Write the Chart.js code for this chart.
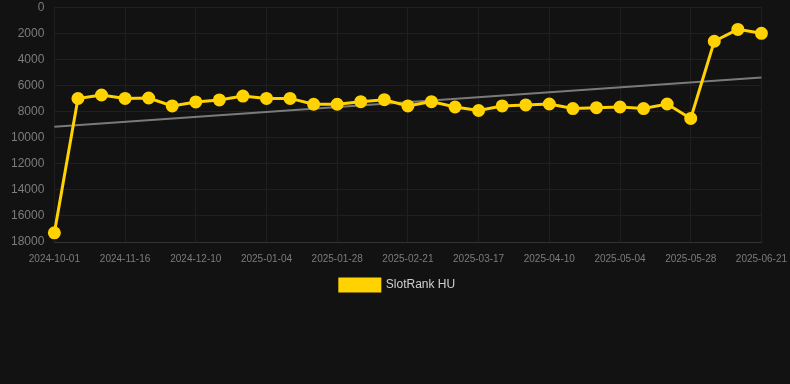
<!DOCTYPE html>
<html lang="en">
<head>
  <meta charset="UTF-8">
  <title>SlotRank HU</title>
  <script src="https://cdn.jsdelivr.net/npm/chart.js"></script>
  <style>
    body { margin: 0; background: #121212; overflow: hidden; }
    .grafico { width: 798px; height: 311px; margin-top: -10px; position: relative; }
  </style>
</head>
<body>
  <div class="grafico">
    <canvas id="graficoRank"></canvas>
  </div>

<script>
  // datas de cada ponto (so uma a cada tres aparece no eixo)
  const datas = [
    '2024-10-01', '2024-10-31', '2024-11-08', '2024-11-16', '2024-11-24', '2024-12-02',
    '2024-12-10', '2024-12-18', '2024-12-26', '2025-01-04', '2025-01-12', '2025-01-20',
    '2025-01-28', '2025-02-05', '2025-02-13', '2025-02-21', '2025-03-01', '2025-03-09',
    '2025-03-17', '2025-03-25', '2025-04-02', '2025-04-10', '2025-04-18', '2025-04-26',
    '2025-05-04', '2025-05-12', '2025-05-20', '2025-05-28', '2025-06-05', '2025-06-13',
    '2025-06-21'
  ];

  // posicao no ranking
  const rankHU = [
    17300, 7000, 6730, 6990, 6960, 7570, 7260, 7110, 6810, 6990, 6990,
    7440, 7440, 7240, 7090, 7570, 7240, 7650, 7920, 7570, 7490, 7420,
    7770, 7700, 7650, 7770, 7420, 8530, 2610, 1700, 2000
  ];

  // linha de tendencia: so inicio e fim, o resto fica vazio
  const tendencia = [
    9160, null, null, null, null, null, null, null, null, null, null,
    null, null, null, null, null, null, null, null, null, null, null,
    null, null, null, null, null, null, null, null, 5390
  ];

  const ticksY = [0, 2000, 4000, 6000, 8000, 10000, 12000, 14000, 16000, 18000];

  const config = {
    type: 'line',
    data: {
      labels: datas,
      datasets: [
        {
          label: 'SlotRank HU',
          data: rankHU,
          borderColor: '#ffd200',
          backgroundColor: '#ffd200',
          borderWidth: 3,
          pointRadius: 5,
          pointHoverRadius: 6,
          tension: 0
        },
        {
          label: 'trend',
          data: tendencia,
          borderColor: '#7a7a7a',
          borderWidth: 2,
          pointRadius: 0,
          spanGaps: true
        }
      ]
    },
    options: {
      responsive: true,
      maintainAspectRatio: false,
      animation: false,
      layout: { padding: { left: 1, right: 4 } },
      plugins: {
        legend: {
          position: 'bottom',
          labels: {
            color: '#d0d0d0',
            boxWidth: 40,
            boxHeight: 12,
            padding: 3,
            font: { family: 'Arial, Liberation Sans', size: 12 },
            filter: function (item) { return item.text !== 'trend'; }
          }
        },
        tooltip: { enabled: false }
      },
      scales: {
        x: {
          offset: false,
          grid: { color: '#1f1f1f', drawTicks: false },
          border: { color: '#333333' },
          ticks: {
            autoSkip: false,
            maxRotation: 0,
            padding: 11,
            color: '#7c7c7c',
            font: { family: 'Arial, Liberation Sans', size: 10 },
            callback: function (value, index) {
              return index % 3 === 0 ? datas[index] : null;
            }
          }
        },
        y: {
          reverse: true,
          min: 0,
          max: 18000,
          afterBuildTicks: function (axis) {
            axis.ticks = ticksY.map(v => ({ value: v }));
          },
          grid: { color: '#1f1f1f', drawTicks: false },
          border: { display: false },
          ticks: {
            padding: 10,
            color: '#7c7c7c',
            font: { family: 'Arial, Liberation Sans', size: 12 },
            callback: function (value) { return String(value); }
          }
        }
      }
    }
  };

  let myChart = new Chart(document.getElementById('graficoRank'), config);
</script>
</body>
</html>
